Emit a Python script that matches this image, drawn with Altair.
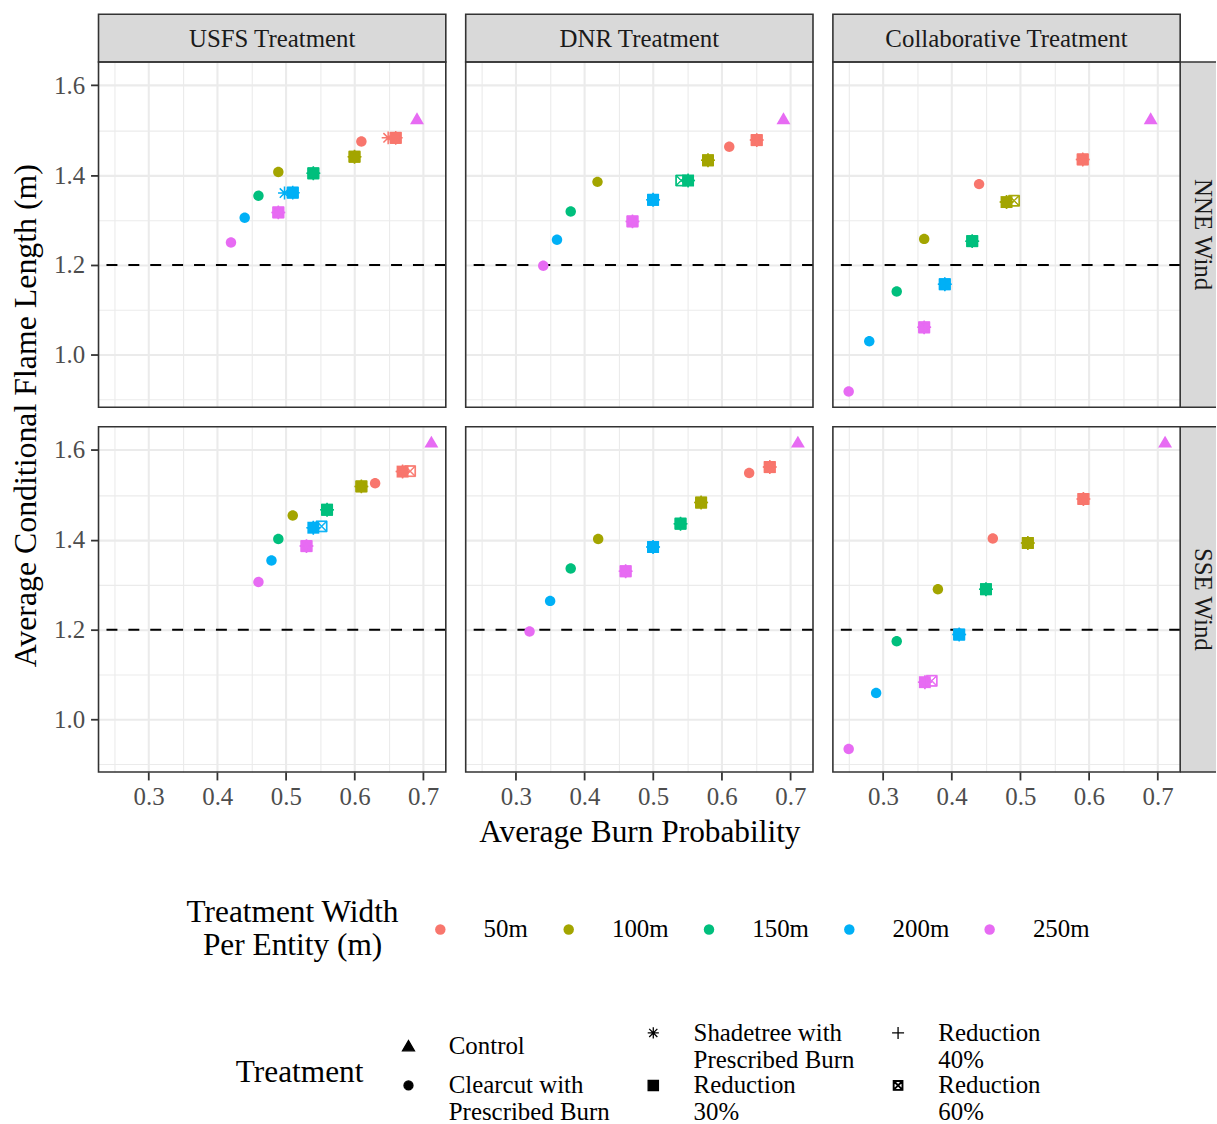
import altair as alt
import pandas as pd

FONT = "Liberation Serif"
AGENCIES = ["USFS Treatment", "DNR Treatment", "Collaborative Treatment"]
WINDS = ["NNE Wind", "SSE Wind"]
WIDTHS = ["50m", "100m", "150m", "200m", "250m"]
WIDTH_COLORS = ["#F8766D", "#A3A500", "#00BF7D", "#00B0F6", "#E76BF3"]
# legend order (laid out row by row in a 3-column legend)
TREATMENTS = ["Control", "Shadetree with Prescribed Burn", "Reduction 40%",
              "Clearcut with Prescribed Burn", "Reduction 30%", "Reduction 60%"]
SHAPE_PATHS = [
    "M0,-1.35L1.4,1.05L-1.4,1.05Z",
    "M-1.3,0L1.3,0M0,-1.3L0,1.3M-0.95,-0.95L0.95,0.95M-0.95,0.95L0.95,-0.95",
    "M-1.4,0L1.4,0M0,-1.4L0,1.4",
    "M1.05,0A1.05,1.05,0,1,1,-1.05,0A1.05,1.05,0,1,1,1.05,0Z",
    "M-1.2,-1.2L1.2,-1.2L1.2,1.2L-1.2,1.2Z",
    ("M-1.1,-1.1L1.1,-1.1L1.1,1.1L-1.1,1.1Z"
     "M-0.86,-0.96L0,-0.1L0.86,-0.96Z"
     "M0.96,-0.86L0.1,0L0.96,0.86Z"
     "M0.86,0.96L0,0.1L-0.86,0.96Z"
     "M-0.96,0.86L-0.1,0L-0.96,-0.86Z"),
]
X_TICKS = [0.25, 0.3, 0.35, 0.4, 0.45, 0.5, 0.55, 0.6, 0.65, 0.7]
Y_TICKS = [0.9, 1.0, 1.1, 1.2, 1.3, 1.4, 1.5, 1.6]
THRESHOLD = [1.2]

# panel order: USFS/NNE, DNR/NNE, Collab/NNE, USFS/SSE, DNR/SSE, Collab/SSE ; 5 widths each
clearcut_bp = [0.610, 0.489, 0.460, 0.440, 0.420,
               0.611, 0.419, 0.380, 0.360, 0.340,
               0.440, 0.360, 0.320, 0.280, 0.250,
               0.630, 0.510, 0.489, 0.479, 0.460,
               0.640, 0.420, 0.380, 0.350, 0.320,
               0.460, 0.380, 0.320, 0.290, 0.250]
clearcut_fl = [1.475, 1.407, 1.354, 1.305, 1.250,
               1.463, 1.385, 1.319, 1.256, 1.198,
               1.380, 1.258, 1.141, 1.030, 0.918,
               1.526, 1.454, 1.402, 1.354, 1.306,
               1.549, 1.402, 1.336, 1.264, 1.196,
               1.403, 1.290, 1.174, 1.059, 0.934]
shadetree_bp = [0.649, 0.600, 0.540, 0.498, 0.489,
                0.651, 0.580, 0.551, 0.500, 0.470,
                0.591, 0.480, 0.430, 0.390, 0.360,
                0.670, 0.610, 0.560, 0.540, 0.530,
                0.670, 0.570, 0.540, 0.500, 0.460,
                0.592, 0.511, 0.450, 0.411, 0.361]
shadetree_fl = [1.483, 1.441, 1.404, 1.360, 1.317,
                1.478, 1.433, 1.388, 1.345, 1.297,
                1.435, 1.340, 1.253, 1.157, 1.061,
                1.552, 1.519, 1.467, 1.427, 1.386,
                1.562, 1.483, 1.436, 1.384, 1.330,
                1.491, 1.393, 1.290, 1.189, 1.083]
red30_bp = [0.660, 0.600, 0.540, 0.510, 0.489,
            0.651, 0.580, 0.551, 0.500, 0.470,
            0.591, 0.480, 0.430, 0.390, 0.360,
            0.670, 0.610, 0.560, 0.540, 0.530,
            0.670, 0.570, 0.540, 0.500, 0.460,
            0.592, 0.511, 0.450, 0.411, 0.361]
red30_fl = [1.483, 1.441, 1.404, 1.361, 1.317,
            1.478, 1.433, 1.388, 1.345, 1.297,
            1.435, 1.340, 1.253, 1.157, 1.061,
            1.552, 1.519, 1.467, 1.427, 1.386,
            1.562, 1.483, 1.436, 1.384, 1.330,
            1.491, 1.393, 1.290, 1.189, 1.083]
red40_bp = [0.660, 0.600, 0.540, 0.510, 0.489,
            0.651, 0.580, 0.551, 0.500, 0.470,
            0.591, 0.480, 0.430, 0.390, 0.360,
            0.670, 0.610, 0.560, 0.540, 0.530,
            0.670, 0.570, 0.540, 0.500, 0.460,
            0.592, 0.511, 0.450, 0.411, 0.361]
red40_fl = [1.483, 1.441, 1.404, 1.361, 1.317,
            1.478, 1.433, 1.388, 1.345, 1.297,
            1.435, 1.340, 1.253, 1.157, 1.061,
            1.552, 1.519, 1.467, 1.427, 1.386,
            1.562, 1.483, 1.436, 1.384, 1.330,
            1.491, 1.393, 1.290, 1.189, 1.083]
red60_bp = [0.660, 0.600, 0.540, 0.510, 0.489,
            0.651, 0.580, 0.541, 0.500, 0.470,
            0.591, 0.491, 0.430, 0.390, 0.360,
            0.681, 0.610, 0.560, 0.552, 0.530,
            0.670, 0.570, 0.540, 0.500, 0.460,
            0.592, 0.511, 0.450, 0.411, 0.371]
red60_fl = [1.483, 1.441, 1.404, 1.361, 1.317,
            1.478, 1.433, 1.388, 1.345, 1.297,
            1.435, 1.343, 1.253, 1.157, 1.061,
            1.553, 1.519, 1.467, 1.430, 1.386,
            1.562, 1.483, 1.436, 1.384, 1.330,
            1.491, 1.393, 1.290, 1.189, 1.086]
control_bp = [0.691, 0.690, 0.690, 0.712, 0.711, 0.711]
control_fl = [1.525, 1.525, 1.525, 1.617, 1.617, 1.617]

PANELS = [(a, w) for w in WINDS for a in AGENCIES]
SERIES = [("Clearcut with Prescribed Burn", clearcut_bp, clearcut_fl),
          ("Shadetree with Prescribed Burn", shadetree_bp, shadetree_fl),
          ("Reduction 30%", red30_bp, red30_fl),
          ("Reduction 40%", red40_bp, red40_fl),
          ("Reduction 60%", red60_bp, red60_fl)]
rows = []
for p, (ag, wd) in enumerate(PANELS):
    for name, bps, fls in SERIES:
        for k, wdt in enumerate(WIDTHS):
            rows.append(dict(agency=ag, wind=wd, width=wdt, treatment=name,
                             bp=bps[p * 5 + k], fl=fls[p * 5 + k]))
    rows.append(dict(agency=ag, wind=wd, width="250m", treatment="Control",
                     bp=control_bp[p], fl=control_fl[p]))
df = pd.DataFrame(rows)

PW, PH = 349, 347
XDOM = [0.227, 0.733]
YDOM = [0.883, 1.652]
SMALL = 25
BIG = 31.5
MINOR_X = "round(datum.value*20) % 2 == 1"
MINOR_Y = "round(datum.value*10) % 2 == 1"

label_expr = ("datum.label == 'Clearcut with Prescribed Burn' ? ['Clearcut with', 'Prescribed Burn'] : "
              "datum.label == 'Shadetree with Prescribed Burn' ? ['Shadetree with', 'Prescribed Burn'] : "
              "indexof(datum.label, 'Reduction') == 0 ? ['Reduction', slice(datum.label, 10)] : datum.label")

color_legend = alt.Legend(
    title=["Treatment Width", "Per Entity (m)"], orient="none", legendX=187, legendY=859,
    direction="horizontal", titleOrient="left", titleAlign="center", titleAnchor="middle",
    titleFontSize=BIG, titleFont=FONT, titleFontWeight="normal", titleColor="black",
    titleLineHeight=33, titlePadding=-78, titleLimit=400,
    labelFontSize=SMALL, labelFont=FONT, labelColor="black", labelOffset=31, labelLimit=300,
    columnPadding=28, symbolType="circle", symbolSize=110, symbolStrokeWidth=0, symbolOpacity=1,
)
shape_legend = alt.Legend(
    title="Treatment", orient="none", legendX=237, legendY=963, columns=3, direction="horizontal",
    titleOrient="left", titleAnchor="middle",
    titleFontSize=BIG, titleFont=FONT, titleFontWeight="normal", titleColor="black",
    titlePadding=32, titleLimit=400,
    labelFontSize=SMALL, labelFont=FONT, labelColor="black", labelOffset=28, labelLimit=300,
    labelExpr=label_expr, columnPadding=31, rowPadding=0,
    symbolSize=74, symbolFillColor="black", symbolStrokeColor="black", symbolStrokeWidth=1.3,
    symbolOpacity=1,
)


def x_axis(show, title=None):
    ax = dict(values=X_TICKS, gridColor="#EBEBEB",
              gridWidth={"condition": {"test": MINOR_X, "value": 1.1}, "value": 2.1},
              domain=False)
    if show:
        ax.update(labels=True, ticks=True, tickSize=8, tickColor="#333333", tickWidth=1.8,
                  tickOpacity={"condition": {"test": MINOR_X, "value": 0}, "value": 1},
                  labelExpr="round(datum.value*20) % 2 == 1 ? '' : format(datum.value, '.1f')",
                  labelFont=FONT, labelFontSize=SMALL, labelColor="#4D4D4D", labelPadding=5,
                  labelOverlap=False, labelFlush=False)
    else:
        ax.update(labels=False, ticks=False)
    if title:
        ax.update(title=title, titleFont=FONT, titleFontSize=BIG, titleFontWeight="normal",
                  titleColor="black", titlePadding=7)
    else:
        ax.update(title=None)
    return alt.Axis(**ax)


def y_axis(show):
    ax = dict(values=Y_TICKS, gridColor="#EBEBEB",
              gridWidth={"condition": {"test": MINOR_Y, "value": 1.1}, "value": 2.1},
              domain=False, title=None)
    if show:
        ax.update(labels=True, ticks=True, tickSize=8, tickColor="#333333", tickWidth=1.8,
                  tickOpacity={"condition": {"test": MINOR_Y, "value": 0}, "value": 1},
                  labelExpr="round(datum.value*10) % 2 == 1 ? '' : format(datum.value, '.1f')",
                  labelFont=FONT, labelFontSize=SMALL, labelColor="#4D4D4D", labelPadding=6,
                  labelOverlap=False, labelFlush=False)
    else:
        ax.update(labels=False, ticks=False)
    return alt.Axis(**ax)


STROKE_W = {"condition": [
    {"test": "datum.treatment == 'Shadetree with Prescribed Burn' || datum.treatment == 'Reduction 40%'",
     "value": 1.5},
    {"test": "datum.treatment == 'Reduction 60%'", "value": 0.9}],
    "value": 0}
one = alt.Data(values=[{}])


def panel(ci, ri):
    ag, wd = AGENCIES[ci], WINDS[ri]
    d = df[(df.agency == ag) & (df.wind == wd)]
    xs = alt.Scale(domain=XDOM, nice=False, zero=False)
    ys = alt.Scale(domain=YDOM, nice=False, zero=False)
    xtitle = "Average Burn Probability" if (ri == 1 and ci == 1) else None
    pts = alt.Chart(d).mark_point(filled=True, opacity=1, size=100).encode(
        x=alt.X("bp:Q", scale=xs, axis=x_axis(ri == 1, xtitle)),
        y=alt.Y("fl:Q", scale=ys, axis=y_axis(ci == 0)),
        color=alt.Color("width:N", scale=alt.Scale(domain=WIDTHS, range=WIDTH_COLORS), legend=color_legend),
        stroke=alt.Stroke("width:N", scale=alt.Scale(domain=WIDTHS, range=WIDTH_COLORS), legend=None),
        shape=alt.Shape("treatment:N", scale=alt.Scale(domain=TREATMENTS, range=SHAPE_PATHS), legend=shape_legend),
        strokeWidth=STROKE_W,
    )
    rule = alt.Chart(alt.Data(values=[{"fl": v} for v in THRESHOLD])).mark_rule(
        color="black", strokeWidth=2, strokeDash=[11, 11]
    ).encode(y=alt.Y("fl:Q", scale=ys, axis=y_axis(ci == 0)))
    layers = [rule, pts]
    if ri == 0:
        layers.append(alt.Chart(one).mark_rect(fill="#D9D9D9", stroke="#333333", strokeWidth=1.6).encode(
            x=alt.value(0), x2=alt.value(PW), y=alt.value(-48), y2=alt.value(0)))
        layers.append(alt.Chart(one).mark_text(font=FONT, fontSize=SMALL, color="#1A1A1A",
                                               align="center", baseline="middle").encode(
            x=alt.value(PW / 2), y=alt.value(-23.5), text=alt.value(ag)))
    if ci == 2:
        layers.append(alt.Chart(one).mark_rect(fill="#D9D9D9").encode(
            x=alt.value(PW), x2=alt.value(PW + 36), y=alt.value(0), y2=alt.value(PH)))
        for yy in (0, PH):
            layers.append(alt.Chart(one).mark_rule(color="#333333", strokeWidth=1.6).encode(
                x=alt.value(PW), x2=alt.value(PW + 36), y=alt.value(yy)))
        layers.append(alt.Chart(one).mark_text(font=FONT, fontSize=SMALL, color="#1A1A1A", angle=90,
                                               align="center", baseline="middle").encode(
            x=alt.value(PW + 23), y=alt.value(PH / 2), text=alt.value(wd)))
    layers.append(alt.Chart(one).mark_rect(fill="transparent", stroke="#333333", strokeWidth=1.6).encode(
        x=alt.value(0), x2=alt.value(PW), y=alt.value(0), y2=alt.value(PH)))
    return alt.layer(*layers).properties(width=PW, height=PH)


row1 = alt.hconcat(*[panel(c, 0) for c in range(3)], spacing=18)
row2 = alt.hconcat(*[panel(c, 1) for c in range(3)], spacing=18)
grid = alt.vconcat(row1, row2, spacing=12.5)

ytitle = alt.Chart(one).mark_text(font=FONT, fontSize=32, color="black", angle=270,
                                  align="center", baseline="middle").encode(
    x=alt.value(26), y=alt.value(355.5), text=alt.value("Average Conditional Flame Length (m)")
).properties(width=52.5, height=700)

chart = alt.hconcat(ytitle, grid, spacing=0).properties(
    padding={"left": 0, "top": 10.5, "right": 0, "bottom": 0}
).configure(font=FONT).configure_view(stroke=None)

chart.save("out.html", embed_options={"renderer": "svg", "actions": False})
